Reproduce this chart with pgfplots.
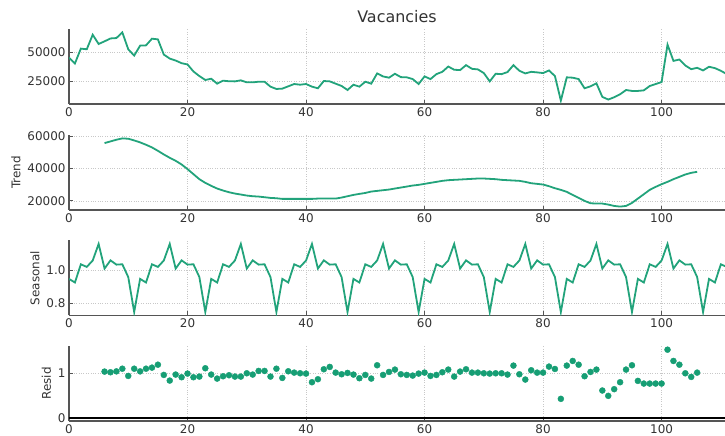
\documentclass[border=0pt]{standalone}
\usepackage{pgfplots}
\pgfplotsset{compat=1.18}
\usepackage{fontspec}
\setmainfont{DejaVu Sans}
\definecolor{ln}{HTML}{22A37B}
\definecolor{mk}{HTML}{169E74}
\definecolor{spine}{HTML}{555555}
\definecolor{txt}{HTML}{333333}
\definecolor{gridc}{HTML}{C8C8C8}

\pgfplotsset{
 dec/.style={
  scale only axis, width=656bp, height=75bp,
  xmin=0, xmax=110.7,
  axis x line*=bottom, axis y line*=left,
  axis line style={spine, line width=1.6bp, -},
  xtick={0,20,...,100},
  grid=major, major grid style={gridc, dotted, line width=0.7bp},
  tick align=inside, major tick length=4bp, tick style={spine, line width=1bp},
  ticklabel style={font=\fontsize{12}{14}\selectfont, text=txt},
  label style={font=\fontsize{12}{14}\selectfont, text=txt},
  /pgf/number format/assume math mode=true,
  /pgf/number format/fixed, /pgf/number format/1000 sep={},
  scaled y ticks=false,
  anchor=south west,
 }
}

\begin{document}
\begin{tikzpicture}
\path[use as bounding box] (0,0) rectangle (725bp,436bp);

\begin{axis}[dec, at={(69bp,332bp)}, ymin=5040, ymax=70210, ytick={25000,50000},
  title={Vacancies}, title style={font=\fontsize{16}{19}\selectfont, text=txt, yshift=-3bp}]
\addplot[ln, line width=1.8bp] coordinates {
(0,45400) (1,40230) (2,53160) (3,52600) (4,65230) (5,57200) (6,59500) (7,62000) (8,62350) (9,67250)
(10,52600) (11,47100) (12,55750) (13,56000) (14,61800) (15,61200) (16,48000) (17,44500) (18,42800) (19,40500)
(20,39400) (21,33300) (22,29300) (23,25900) (24,27000) (25,22700) (26,25300) (27,24800) (28,24700) (29,25600)
(30,23850) (31,23850) (32,24400) (33,24400) (34,20100) (35,18100) (36,18400) (37,20400) (38,22400) (39,21800)
(40,22400) (41,20100) (42,18700) (43,25000) (44,24700) (45,22700) (46,20700) (47,17200) (48,21800) (49,20100)
(50,24400) (51,22700) (52,31600) (53,29000) (54,27900) (55,31300) (56,28400) (57,28200) (58,26700) (59,22400)
(60,29000) (61,26700) (62,31000) (63,33000) (64,37600) (65,34800) (66,34500) (67,38800) (68,35600) (69,35100)
(70,31900) (71,24700) (72,31300) (73,31000) (74,32800) (75,38800) (76,33900) (77,31600) (78,33000) (79,32500)
(80,31900) (81,34200) (82,29300) (83,8000) (84,28200) (85,27900) (86,26700) (87,18700) (88,20400) (89,23000)
(90,11200) (91,8900) (92,10900) (93,13500) (94,17200) (95,16400) (96,16400) (97,16900) (98,20700) (99,22400)
(100,24100) (101,56600) (102,42500) (103,43700) (104,38500) (105,35300) (106,36500) (107,34200) (108,37400) (109,36200)
(110,33900) (111,31000)
};
\end{axis}

\begin{axis}[dec, at={(69bp,226bp)}, ymin=14390, ymax=60660, ytick={20000,40000,60000}, ylabel={Trend}]
\addplot[ln, line width=1.8bp] coordinates {
(6,55670) (7,56700) (8,57730) (9,58560) (10,58350) (11,57300) (12,56100) (13,54640) (14,53000) (15,50900)
(16,48660) (17,46600) (18,44740) (19,42470) (20,39600) (21,36500) (22,33400) (23,31130) (24,29280) (25,27630)
(26,26390) (27,25360) (28,24530) (29,23920) (30,23300) (31,22880) (32,22680) (33,22270) (34,21850) (35,21650)
(36,21240) (37,21240) (38,21240) (39,21240) (40,21240) (41,21240) (42,21440) (43,21440) (44,21440) (45,21440)
(46,22060) (47,22880) (48,23700) (49,24330) (50,24900) (51,25770) (52,26180) (53,26600) (54,27000) (55,27630)
(56,28250) (57,28860) (58,29480) (59,29900) (60,30510) (61,31130) (62,31750) (63,32370) (64,32780) (65,32990)
(66,33190) (67,33400) (68,33600) (69,33810) (70,33810) (71,33600) (72,33400) (73,32990) (74,32780) (75,32580)
(76,32370) (77,31750) (78,30900) (79,30510) (80,30100) (81,29070) (82,27830) (83,26800) (84,25570) (85,23700)
(86,21850) (87,20000) (88,18560) (89,18350) (90,18350) (91,17730) (92,16900) (93,16490) (94,16900) (95,18760)
(96,21440) (97,24120) (98,26800) (99,28660) (100,30300) (101,31750) (102,33400) (103,34840) (104,36290) (105,37320)
(106,37940)
};
\end{axis}

\begin{axis}[dec, at={(69bp,120.5bp)}, ymin=0.724, ymax=1.181, ytick={0.8,1.0},
  yticklabel style={/pgf/number format/precision=1, /pgf/number format/fixed zerofill}, ylabel={Seasonal}]
\addplot[ln, line width=1.8bp] coordinates {
(0,0.947) (1,0.925) (2,1.036) (3,1.020) (4,1.059) (5,1.160) (6,1.010) (7,1.060) (8,1.034) (9,1.036) (10,0.958) (11,0.745)
(12,0.947) (13,0.925) (14,1.036) (15,1.020) (16,1.059) (17,1.160) (18,1.010) (19,1.060) (20,1.034) (21,1.036) (22,0.958) (23,0.745)
(24,0.947) (25,0.925) (26,1.036) (27,1.020) (28,1.059) (29,1.160) (30,1.010) (31,1.060) (32,1.034) (33,1.036) (34,0.958) (35,0.745)
(36,0.947) (37,0.925) (38,1.036) (39,1.020) (40,1.059) (41,1.160) (42,1.010) (43,1.060) (44,1.034) (45,1.036) (46,0.958) (47,0.745)
(48,0.947) (49,0.925) (50,1.036) (51,1.020) (52,1.059) (53,1.160) (54,1.010) (55,1.060) (56,1.034) (57,1.036) (58,0.958) (59,0.745)
(60,0.947) (61,0.925) (62,1.036) (63,1.020) (64,1.059) (65,1.160) (66,1.010) (67,1.060) (68,1.034) (69,1.036) (70,0.958) (71,0.745)
(72,0.947) (73,0.925) (74,1.036) (75,1.020) (76,1.059) (77,1.160) (78,1.010) (79,1.060) (80,1.034) (81,1.036) (82,0.958) (83,0.745)
(84,0.947) (85,0.925) (86,1.036) (87,1.020) (88,1.059) (89,1.160) (90,1.010) (91,1.060) (92,1.034) (93,1.036) (94,0.958) (95,0.745)
(96,0.947) (97,0.925) (98,1.036) (99,1.020) (100,1.059) (101,1.160) (102,1.010) (103,1.060) (104,1.034) (105,1.036) (106,0.958) (107,0.745)
(108,0.947) (109,0.925) (110,1.036) (111,1.020)
};
\end{axis}

\begin{axis}[dec, at={(69bp,15bp)}, ymin=-0.065, ymax=1.62, ytick={0,1}, ylabel={Resid}]
\addplot[black, line width=2bp] coordinates {(0,0) (112,0)};
\addplot[only marks, mark=*, mark size=3bp, mk, mark options={draw=mk, fill=mk}] coordinates {
(6,1.045) (7,1.03) (8,1.05) (9,1.11) (10,0.948) (11,1.11) (12,1.05) (13,1.11) (14,1.134) (15,1.2)
(16,0.97) (17,0.843) (18,0.978) (19,0.918) (20,1.0) (21,0.918) (22,0.933) (23,1.12) (24,0.978) (25,0.888)
(26,0.94) (27,0.963) (28,0.933) (29,0.933) (30,1.007) (31,0.978) (32,1.06) (33,1.06) (34,0.933) (35,1.11)
(36,0.903) (37,1.052) (38,1.022) (39,1.007) (40,1.0) (41,0.806) (42,0.873) (43,1.097) (44,1.15) (45,1.022)
(46,0.985) (47,1.015) (48,0.978) (49,0.896) (50,0.97) (51,0.888) (52,1.187) (53,0.97) (54,1.037) (55,1.09)
(56,0.985) (57,0.97) (58,0.955) (59,1.0) (60,1.022) (61,0.948) (62,0.97) (63,1.03) (64,1.09) (65,0.933)
(66,1.045) (67,1.097) (68,1.022) (69,1.022) (70,1.007) (71,1.0) (72,1.007) (73,1.007) (74,0.978) (75,1.18)
(76,0.985) (77,0.866) (78,1.075) (79,1.022) (80,1.022) (81,1.157) (82,1.104) (83,0.433) (84,1.18) (85,1.284)
(86,1.2) (87,0.94) (88,1.037) (89,1.09) (90,0.62) (91,0.5) (92,0.65) (93,0.806) (94,1.09) (95,1.187)
(96,0.836) (97,0.776) (98,0.776) (99,0.776) (100,0.776) (101,1.537) (102,1.284) (103,1.2) (104,1.007) (105,0.925)
(106,1.022)
};
\end{axis}
\end{tikzpicture}
\end{document}
